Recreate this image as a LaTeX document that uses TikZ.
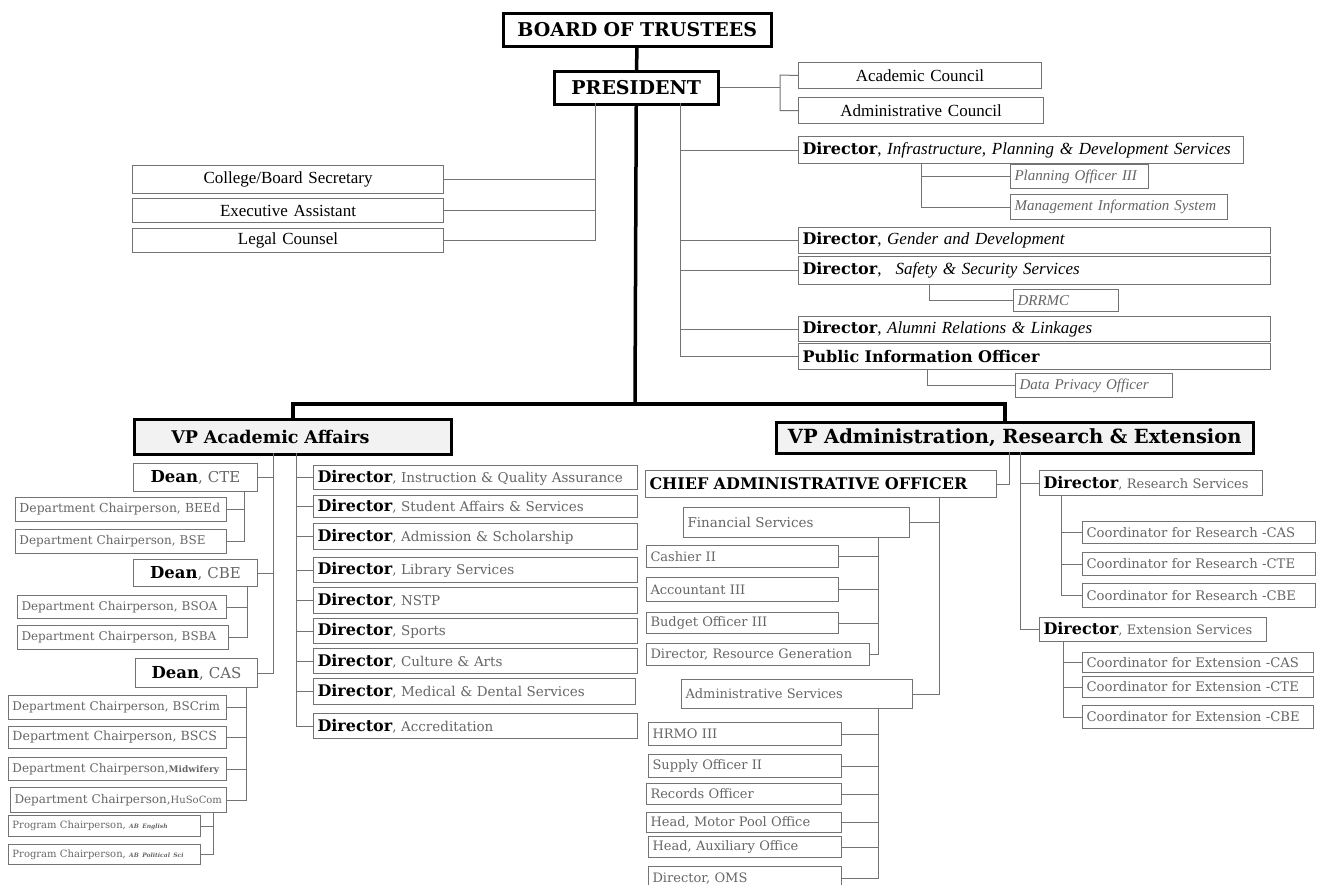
\documentclass[tikz,border=0pt]{standalone}
\usepackage{fontspec}
\setmainfont{Liberation Serif}
\newfontfamily\slab{DejaVu Serif}

\begin{document}
\begin{tikzpicture}[
    x=1pt, y=-1pt,
    % Node styles
    box/.style={
        rectangle,
        draw=black!55,
        line width=1pt,
        fill=white,
        anchor=north west,
        inner xsep=4pt,
        inner ysep=0pt,
        text width=#1-8,
        align=left,
        font=\slab\fontsize{12}{14}\selectfont,
        text=black!60
    },
    dirbox/.style={
        box=#1,
        font=\slab\fontsize{13.5}{15}\selectfont
    },
    coord/.style={
        box=#1,
        font=\slab\fontsize{13.2}{15}\selectfont
    },
    staff/.style={
        box=#1,
        font=\slab\fontsize{13}{15}\selectfont
    },
    deanbox/.style={
        box=#1,
        align=center,
        font=\slab\fontsize{15}{17}\selectfont
    },
    cbox/.style={
        box=#1,
        align=center,
        font=\fontsize{17}{19}\selectfont,
        text=black
    },
    head/.style={
        box=#1,
        draw=black,
        line width=2.5pt,
        align=center,
        font=\slab\bfseries\fontsize{19}{21}\selectfont,
        text=black
    },
    vp/.style={
        head=#1,
        fill=black!5,
        font=\slab\bfseries\fontsize{17.5}{20}\selectfont
    },
    upper/.style={
        box=#1,
        font=\fontsize{17}{19}\selectfont,
        text=black
    },
    note/.style={
        box=#1,
        font=\itshape\fontsize{15}{17}\selectfont
    },
    link/.style={
        draw=black!55,
        line width=1pt
    },
    trunk/.style={
        draw=black,
        line width=3.5pt
    }
]
\newcommand\dirb{{\slab\bfseries\fontsize{16}{18}\selectfont\color{black}Director}}
\newcommand\deanb{{\slab\bfseries\fontsize{16.5}{18}\selectfont\color{black}Dean}}

\useasboundingbox (0,0) rectangle (1323,884);
\clip (0,0) rectangle (1323,884);

% Top level
\node[head=268, minimum height=33] (bot) at (502,12) {BOARD OF TRUSTEES};
\node[head=164, minimum height=33] (pres) at (553,70) {PRESIDENT};

% Councils
\node[cbox=243, minimum height=26] (acad) at (798,62) {Academic Council};
\node[cbox=245, minimum height=26] (admc) at (798,97) {Administrative Council};

% Offices under the president (right)
\node[upper=445, minimum height=27] (dinfra) at (798,136) {\dirb, \textit{Infrastructure, Planning \& Development Services}};
\node[note=138, minimum height=24] (plan) at (1010,164) {Planning Officer III};
\node[note=217, minimum height=25] (mis) at (1010,194) {Management Information System};
\node[upper=472, minimum height=26] (dgad) at (798,227) {\dirb, \textit{Gender and Development}};
\node[upper=472, minimum height=28] (dsafe) at (798,256) {\dirb, \enspace\textit{Safety \& Security Services}};
\node[note=105, minimum height=22] (drrmc) at (1013,289) {DRRMC};
\node[upper=472, minimum height=25] (dalum) at (798,316) {\dirb, \textit{Alumni Relations \& Linkages}};
\node[upper=472, minimum height=26, font=\slab\bfseries\fontsize{16}{18}\selectfont] (pio) at (798,343) {Public Information Officer};
\node[note=157, minimum height=24] (dpo) at (1015,373) {Data Privacy Officer};

% Offices under the president (left)
\node[cbox=311, minimum height=28] (secr) at (132,165) {College/Board Secretary};
\node[cbox=311, minimum height=24] (exec) at (132,198) {Executive Assistant};
\node[cbox=311, minimum height=24] (legal) at (132,228) {Legal Counsel};

% Vice presidents
\node[vp=317, minimum height=35, align=left] (vpaa) at (133,418) {\hspace*{33pt}VP Academic Affairs};
\node[vp=477, minimum height=31, font=\slab\bfseries\fontsize{19.5}{22}\selectfont] (vpare) at (775,421) {VP Administration, Research \& Extension};

% Deans and chairpersons
\node[deanbox=124, minimum height=28] (dcte) at (133,463) {\deanb, CTE};
\node[box=211, minimum height=24, font=\slab\fontsize{12.4}{14}\selectfont] (beed) at (15,497) {Department Chairperson, BEEd};
\node[box=211, minimum height=24] (bse) at (15,529) {Department Chairperson, BSE};
\node[deanbox=124, minimum height=27] (dcbe) at (133,559) {\deanb, CBE};
\node[box=209, minimum height=23] (bsoa) at (17,595) {Department Chairperson, BSOA};
\node[box=211, minimum height=24] (bsba) at (17,625) {Department Chairperson, BSBA};
\node[deanbox=122, minimum height=29] (dcas) at (135,658) {\deanb, CAS};
\node[box=218, minimum height=24] (bscrim) at (8,695) {Department Chairperson, BSCrim};
\node[box=218, minimum height=22, font=\slab\fontsize{12.6}{15}\selectfont] (bscs) at (8,726) {Department Chairperson, BSCS};
\node[box=218, minimum height=23] (midw) at (8,757) {Department Chairperson,{\fontsize{9}{10}\selectfont\bfseries Midwifery}};
\node[box=216, minimum height=25] (husocom) at (10,787) {Department Chairperson,{\fontsize{10}{11}\selectfont HuSoCom}};
\node[box=192, minimum height=21, font=\slab\fontsize{10}{12}\selectfont] (abeng) at (8,815) {Program Chairperson, {\fontsize{6}{7}\selectfont\bfseries\itshape AB English}};
\node[box=192, minimum height=20, font=\slab\fontsize{10}{12}\selectfont] (abpol) at (8,844) {Program Chairperson, {\fontsize{6}{7}\selectfont\bfseries\itshape AB Political Sci}};

% Directors under VP Academic Affairs
\node[dirbox=324, minimum height=24] (diqa) at (313,465) {\dirb, Instruction \& Quality Assurance};
\node[dirbox=324, minimum height=22] (dsas) at (313,495) {\dirb, Student Affairs \& Services};
\node[dirbox=324, minimum height=26] (dadm) at (313,523) {\dirb, Admission \& Scholarship};
\node[dirbox=324, minimum height=25] (dlib) at (313,557) {\dirb, Library Services};
\node[dirbox=324, minimum height=26] (dnstp) at (313,587) {\dirb, NSTP};
\node[dirbox=324, minimum height=25] (dspo) at (313,618) {\dirb, Sports};
\node[dirbox=324, minimum height=25] (dcul) at (313,648) {\dirb, Culture \& Arts};
\node[dirbox=322, minimum height=26] (dmed) at (313,678) {\dirb, Medical \& Dental Services};
\node[dirbox=324, minimum height=25] (dacc) at (313,713) {\dirb, Accreditation};

% Chief administrative officer
\node[box=351, minimum height=27, font=\slab\bfseries\fontsize{16}{18}\selectfont, text=black] (cao) at (645,470) {CHIEF ADMINISTRATIVE OFFICER};
\node[box=226, minimum height=30, font=\slab\fontsize{13.5}{15}\selectfont] (fin) at (683,507) {Financial Services};
\node[staff=192, minimum height=22] (cash) at (646,545) {Cashier II};
\node[staff=192, minimum height=24] (acct) at (646,577) {Accountant III};
\node[staff=192, minimum height=21] (budg) at (646,612) {Budget Officer III};
\node[staff=223, minimum height=22] (drg) at (646,643) {Director, Resource Generation};
\node[staff=231, minimum height=29] (adms) at (681,679) {Administrative Services};
\node[staff=193, minimum height=23] (hrmo) at (648,722) {HRMO III};
\node[staff=193, minimum height=23] (supp) at (648,754) {Supply Officer II};
\node[staff=195, minimum height=21] (rec) at (646,783) {Records Officer};
\node[staff=195, minimum height=20] (motor) at (646,812) {Head, Motor Pool Office};
\node[staff=193, minimum height=21] (aux) at (648,836) {Head, Auxiliary Office};
\node[staff=193, minimum height=24] (oms) at (648,866) {Director, OMS};

% Research and extension
\node[staff=223, minimum height=25] (dres) at (1039,470) {\dirb, Research Services};
\node[coord=233, minimum height=22] (crcas) at (1082,521) {Coordinator for Research -CAS};
\node[coord=233, minimum height=23] (crcte) at (1082,552) {Coordinator for Research -CTE};
\node[coord=233, minimum height=24] (crcbe) at (1082,583) {Coordinator for Research -CBE};
\node[staff=227, minimum height=24] (dext) at (1039,617) {\dirb, Extension Services};
\node[coord=231, minimum height=20] (cecas) at (1082,652) {Coordinator for Extension -CAS};
\node[coord=231, minimum height=21] (cecte) at (1082,676) {Coordinator for Extension -CTE};
\node[coord=231, minimum height=23] (cecbe) at (1082,705) {Coordinator for Extension -CBE};

% Bus lines
\coordinate (split) at (635,404);
\coordinate (aabus) at (293,404);
\coordinate (arebus) at (1005,404);
\coordinate (cbus) at (780,75);
\coordinate (rbus) at (680,103);
\coordinate (lbus) at (595,103);
\coordinate (ibus) at (921,163);
\coordinate (sbus) at (929,284);
\coordinate (pbus) at (927,369);
\coordinate (deanbus) at (273,453);
\coordinate (ctebus) at (244,491);
\coordinate (cbebus) at (247,586);
\coordinate (casbus) at (246,687);
\coordinate (progbus) at (213,812);
\coordinate (dirbus) at (296,453);
\coordinate (caobus) at (1009,452);
\coordinate (resbus) at (1020,452);
\coordinate (finbus) at (939,497);
\coordinate (fsbus) at (878,537);
\coordinate (asbus) at (878,708);
\coordinate (rcbus) at (1061,495);
\coordinate (ecbus) at (1063,641);

% Main line
\draw[trunk] (bot) -- (pres);
\draw[trunk] (pres.south) -- (split);
\draw[trunk] (vpaa.north -| aabus) -- (aabus) -- (arebus) -- (vpare.north -| arebus);

% President's councils and offices
\draw[link] (pres.east) -- (pres.east -| cbus);
\draw[link] (acad.west) -- (cbus) |- (admc.west);
\draw[link] (rbus) |- (pio.west);
\foreach \n in {dinfra, dgad, dsafe, dalum}
    \draw[link] (\n.west) -- (\n.west -| rbus);
\draw[link] (ibus) |- (mis.west);
\draw[link] (plan.west) -- (plan.west -| ibus);
\draw[link] (sbus) |- (drrmc.west);
\draw[link] (pbus) |- (dpo.west);
\draw[link] (lbus) |- (legal.east);
\foreach \n in {secr, exec}
    \draw[link] (\n.east) -- (\n.east -| lbus);

% Academic affairs
\draw[link] (deanbus) |- (dcas.east);
\foreach \n in {dcte, dcbe}
    \draw[link] (\n.east) -- (\n.east -| deanbus);
\draw[link] (ctebus) |- (bse.east);
\draw[link] (beed.east) -- (beed.east -| ctebus);
\draw[link] (cbebus) |- (bsba.east);
\draw[link] (bsoa.east) -- (bsoa.east -| cbebus);
\draw[link] (casbus) |- (husocom.east);
\foreach \n in {bscrim, bscs, midw}
    \draw[link] (\n.east) -- (\n.east -| casbus);
\draw[link] (progbus) |- (abpol.east);
\draw[link] (abeng.east) -- (abeng.east -| progbus);
\draw[link] (dirbus) |- (dacc.west);
\foreach \n in {diqa, dsas, dadm, dlib, dnstp, dspo, dcul, dmed}
    \draw[link] (\n.west) -- (\n.west -| dirbus);

% Administration, research and extension
\draw[link] (caobus) |- (cao.east);
\draw[link] (resbus) |- (dext.west);
\draw[link] (dres.west) -- (dres.west -| resbus);
\draw[link] (finbus) |- (adms.east);
\draw[link] (fin.east) -- (fin.east -| finbus);
\draw[link] (fsbus) |- (drg.east);
\foreach \n in {cash, acct, budg}
    \draw[link] (\n.east) -- (\n.east -| fsbus);
\draw[link] (asbus) |- (oms.east);
\foreach \n in {hrmo, supp, rec, motor, aux}
    \draw[link] (\n.east) -- (\n.east -| asbus);
\draw[link] (rcbus) |- (crcbe.west);
\foreach \n in {crcas, crcte}
    \draw[link] (\n.west) -- (\n.west -| rcbus);
\draw[link] (ecbus) |- (cecbe.west);
\foreach \n in {cecas, cecte}
    \draw[link] (\n.west) -- (\n.west -| ecbus);

\end{tikzpicture}
\end{document}
